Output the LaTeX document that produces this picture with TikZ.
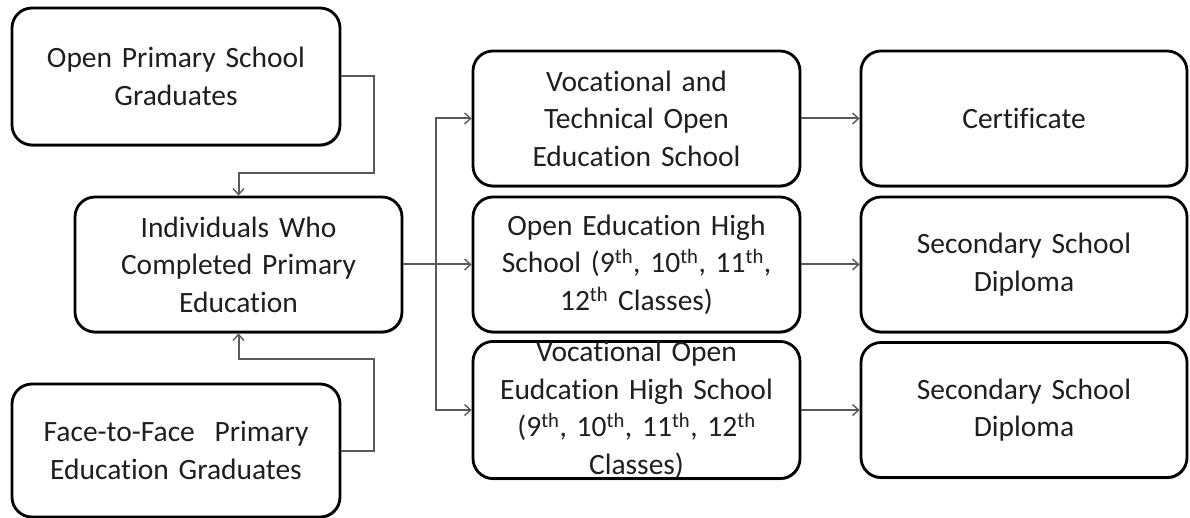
\documentclass[tikz,border=0pt]{standalone}
\usepackage{fontspec}
\setmainfont{Carlito}[Ligatures=NoCommon]
\usetikzlibrary{arrows.meta,shadows}
\begin{document}
\begin{tikzpicture}[x=1pt,y=-1pt,
  box/.style={draw=black, line width=2.8pt, rounded corners=20pt, fill=white,
    drop shadow={shadow xshift=0.8pt, shadow yshift=-1.6pt, fill=black!55, opacity=0.9},
    text width=315pt, align=center, inner sep=0pt,
    font=\fontsize{29.5}{37.5}\selectfont, text=black!88},
  conn/.style={draw=black!65, line width=2pt,
    -{Straight Barb[length=6pt,width=11pt,line width=1.4pt]}}]
\useasboundingbox (0,0) rectangle (1190,518);

% left column: sources
\node[box, minimum width=328pt, minimum height=137pt] (A) at (176,76.5)
  {Open Primary School\\Graduates};
\node[box, minimum width=327pt, minimum height=135pt] (B) at (238.5,264.5)
  {Individuals Who\\Completed Primary\\Education};
\node[box, minimum width=328pt, minimum height=133pt] (C) at (176,450.5)
  {Face-to-Face\ \ Primary\\Education Graduates};

% middle column: programmes
\node[box, minimum width=327pt, minimum height=135pt] (D) at (636.5,118.5)
  {Vocational and\\Technical Open\\Education School};
\node[box, minimum width=327pt, minimum height=135pt] (E) at (636.5,264.5)
  {Open Education High\\School (9\textsuperscript{th}, 10\textsuperscript{th}, 11\textsuperscript{th},\\12\textsuperscript{th} Classes)};
\node[box, minimum width=327pt, minimum height=136pt] (F) at (636.5,410)
  {Vocational Open\\Eudcation High School\\(9\textsuperscript{th}, 10\textsuperscript{th}, 11\textsuperscript{th}, 12\textsuperscript{th}\\Classes)};

% right column: outcomes
\node[box, minimum width=326pt, minimum height=135pt] (G) at (1024,118.5)
  {Certificate};
\node[box, minimum width=326pt, minimum height=135pt] (H) at (1024,264.5)
  {Secondary School\\Diploma};
\node[box, minimum width=326pt, minimum height=135pt] (I) at (1024,410)
  {Secondary School\\Diploma};

% sources into the central box
\draw[conn] (A.east) -- ++(33,0) |- ([yshift=23pt]B.north) -- (B.north);
\draw[conn] (C.east) -- ++(33,0) |- ([yshift=-26pt]B.south) -- (B.south);

% central box to the programmes
\draw[conn] (B.east) -- (E.west);
\draw[conn] (B.east) -| ([xshift=-36pt]D.west) -- (D.west);
\draw[conn] (B.east) -| ([xshift=-36pt]F.west) -- (F.west);

% programmes to outcomes
\draw[conn] (D.east) -- (G.west);
\draw[conn] (E.east) -- (H.west);
\draw[conn] (F.east) -- (I.west);
\end{tikzpicture}
\end{document}
